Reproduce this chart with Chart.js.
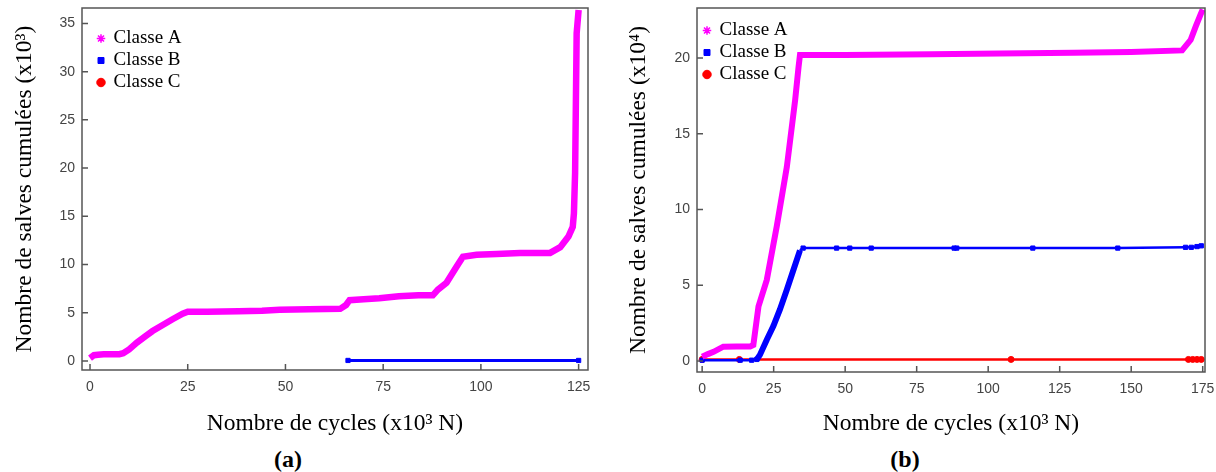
<!DOCTYPE html>
<html>
<head>
<meta charset="utf-8">
<script src="https://cdn.jsdelivr.net/npm/chart.js@4/dist/chart.umd.min.js"></script>
<style>
    body { margin: 0; background: #fff; }
    #wrap { position: relative; width: 1216px; height: 472px; }
    .panel { position: absolute; top: 0; width: 608px; height: 440px; }
    .tag { position: absolute; top: 446px; width: 60px; text-align: center;
           font: bold 24px "Liberation Serif", serif; color: #000; }
</style>
</head>
<body>
<div id="wrap">
    <div class="panel" style="left:0"><canvas id="chartA"></canvas></div>
    <div class="panel" style="left:608px"><canvas id="chartB"></canvas></div>
    <div class="tag" style="left:258px">(a)</div>
    <div class="tag" style="left:875px">(b)</div>
</div>
<script>
// ---- panel (a) : cycles x10^3 N / salves x10^3
const aClassAX = [0, 1, 2, 3.5, 5, 7.5, 8.5, 10, 12, 14.3, 16, 18.5, 21, 23.7, 25, 30, 38, 44, 48.5, 56, 64, 65.5, 66.4, 70, 74, 79, 84, 87.7, 89, 91.2, 93.8, 95.4, 98.9, 104, 110, 117.7, 120.3, 122.4, 123.5, 123.8, 124.1, 124.5, 125];
const aClassAY = [0.3, 0.6, 0.65, 0.7, 0.7, 0.7, 0.8, 1.2, 1.9, 2.6, 3.1, 3.7, 4.3, 4.9, 5.1, 5.1, 5.15, 5.2, 5.3, 5.35, 5.4, 5.8, 6.3, 6.4, 6.5, 6.7, 6.8, 6.8, 7.4, 8.1, 9.8, 10.8, 11.0, 11.1, 11.2, 11.2, 11.8, 12.9, 13.9, 15.3, 19.5, 34, 36.4];
const aClassBX = [66, 125];
const aClassBY = [0.05, 0.05];
const aClassCX = [];
const aClassCY = [];
const aXTicks = [0, 25, 50, 75, 100, 125];
const aYTicks = [0, 5, 10, 15, 20, 25, 30, 35];

// ---- panel (b) : cycles x10^3 N / salves x10^4
const bClassAX = [0, 2, 4, 7.4, 12, 16.8, 17.9, 19.7, 22.6, 26.1, 29.6, 32.5, 33.7, 34.2, 50, 80, 104, 130, 150, 167.8, 170.8, 172.6, 174.3, 175];
const bClassAY = [0.28, 0.45, 0.6, 0.94, 0.95, 0.95, 1.05, 3.6, 5.35, 8.9, 12.8, 17.2, 19.4, 20.2, 20.2, 20.25, 20.3, 20.35, 20.4, 20.5, 21.2, 22.1, 22.9, 23.2];
const bClassBX = [0, 13.3, 17.3, 19.1, 20.2, 22.6, 24.9, 27.2, 29.6, 31.9, 34.2, 35.3, 47, 51.6, 59.1, 88.1, 89, 115.6, 145.3, 169, 171, 173, 174.5];
const bClassBY = [0.05, 0.05, 0.05, 0.1, 0.4, 1.4, 2.3, 3.4, 4.7, 6.0, 7.3, 7.45, 7.45, 7.45, 7.45, 7.45, 7.45, 7.45, 7.45, 7.5, 7.5, 7.55, 7.6];
const bClassCX = [0, 13, 108, 170, 171.5, 173, 174.5];
const bClassCY = [0.1, 0.1, 0.1, 0.1, 0.1, 0.1, 0.1];
const bXTicks = [0, 25, 50, 75, 100, 125, 150, 175];
const bYTicks = [0, 5, 10, 15, 20];

const toPoints = (xs, ys) => xs.map((x, i) => ({ x: x, y: ys[i] }));

const MAGENTA = '#ff00ff';
const BLUE = '#0000ff';
const RED = '#ff0000';

// box around the plot + small inward ticks
const frame = {
    id: 'frame',
    afterDraw(chart) {
        const { ctx, chartArea: a, scales } = chart;
        ctx.save();
        ctx.strokeStyle = '#555';
        ctx.lineWidth = 1.5;
        ctx.strokeRect(a.left, a.top, a.right - a.left, a.bottom - a.top);
        ctx.beginPath();
        scales.x.ticks.forEach(t => {
            const px = scales.x.getPixelForValue(t.value);
            ctx.moveTo(px, a.bottom);
            ctx.lineTo(px, a.bottom - 6);
        });
        scales.y.ticks.forEach(t => {
            const py = scales.y.getPixelForValue(t.value);
            ctx.moveTo(a.left, py);
            ctx.lineTo(a.left + 6, py);
        });
        ctx.stroke();
        ctx.restore();
    }
};

// nudge the in-plot legend away from the corner
const legendShift = {
    id: 'legendShift',
    afterLayout(chart, args, opts) {
        const lg = chart.legend;
        if (!lg) return;
        lg.left += opts.dx; lg.right += opts.dx;
        lg.top += opts.dy; lg.bottom += opts.dy;
    }
};

function makeChart(id, cfg) {
    const tickFont = { family: '"Liberation Sans", Arial, sans-serif', size: 14 };
    const titleFont = { family: '"Liberation Serif", "Times New Roman", serif', size: 23.5 };
    return new Chart(document.getElementById(id), {
        type: 'line',
        data: { datasets: cfg.datasets },
        options: {
            responsive: true,
            maintainAspectRatio: false,
            animation: false,
            layout: { padding: { left: cfg.padLeft, right: cfg.padRight, top: 8, bottom: 0 } },
            plugins: {
                tooltip: { enabled: false },
                legendShift: { dx: cfg.legendDx, dy: cfg.legendDy },
                legend: {
                    position: 'chartArea',
                    align: 'start',
                    labels: {
                        usePointStyle: true,
                        boxWidth: 6,
                        boxHeight: 6,
                        padding: 3,
                        color: '#000',
                        font: { family: '"Liberation Serif", "Times New Roman", serif', size: 19 }
                    }
                }
            },
            scales: {
                x: {
                    type: 'linear',
                    min: cfg.xMin,
                    max: cfg.xMax,
                    grid: { display: false, drawTicks: false },
                    border: { display: false },
                    afterBuildTicks: s => { s.ticks = cfg.xTicks.map(v => ({ value: v })); },
                    afterFit: s => { s.height = 440 - cfg.bottom; s.paddingLeft = 0; s.paddingRight = 0; },
                    ticks: { color: '#444', font: tickFont, padding: 9, maxRotation: 0 },
                    title: { display: true, text: 'Nombre de cycles (x10³ N)', color: '#000', font: titleFont, padding: { top: 0, bottom: 2 } }
                },
                y: {
                    min: cfg.yMin,
                    max: cfg.yMax,
                    grid: { display: false, drawTicks: false },
                    border: { display: false },
                    afterBuildTicks: s => { s.ticks = cfg.yTicks.map(v => ({ value: v })); },
                    afterFit: s => { s.width = cfg.chartLeft - cfg.padLeft; s.paddingTop = 0; s.paddingBottom = 0; },
                    ticks: { color: '#444', font: tickFont, padding: 7 },
                    title: { display: true, text: cfg.yTitle, color: '#000', font: titleFont, padding: 0 }
                }
            }
        },
        plugins: [frame, legendShift]
    });
}

makeChart('chartA', {
    padLeft: 11, padRight: 20, chartLeft: 82, bottom: 370,
    xMin: -2.05, xMax: 127.4, yMin: -0.94, yMax: 36.6,
    xTicks: aXTicks, yTicks: aYTicks,
    legendDx: 13, legendDy: 26,
    yTitle: 'Nombre de salves cumulées (x10³)',
    datasets: [
        { label: 'Classe A', data: toPoints(aClassAX, aClassAY), borderColor: MAGENTA, backgroundColor: MAGENTA,
          borderWidth: 6.5, pointRadius: 0, pointStyle: 'star', pointBorderWidth: 1.5 },
        { label: 'Classe B', data: toPoints(aClassBX, aClassBY), borderColor: BLUE, backgroundColor: BLUE,
          borderWidth: 3, pointRadius: 3, pointStyle: 'rect', pointBorderWidth: 1 },
        { label: 'Classe C', data: toPoints(aClassCX, aClassCY), borderColor: RED, backgroundColor: RED,
          borderWidth: 2.5, pointRadius: 3, pointStyle: 'circle', pointBorderWidth: 1 }
    ]
});

makeChart('chartB', {
    padLeft: 17, padRight: 11, chartLeft: 89, bottom: 372,
    xMin: -1.8, xMax: 175.8, yMin: -0.73, yMax: 23.3,
    xTicks: bXTicks, yTicks: bYTicks,
    legendDx: 4, legendDy: 18,
    yTitle: 'Nombre de salves cumulées (x10⁴)',
    datasets: [
        { label: 'Classe A', data: toPoints(bClassAX, bClassAY), borderColor: MAGENTA, backgroundColor: MAGENTA,
          borderWidth: 6, pointRadius: 0, pointStyle: 'star', pointBorderWidth: 1.5 },
        { label: 'Classe B', data: toPoints(bClassBX, bClassBY), borderColor: BLUE, backgroundColor: BLUE,
          borderWidth: 2.5, pointStyle: 'rect', pointBorderWidth: 1,
          pointRadius: c => (c.raw && c.raw.x > 19.5 && c.raw.x < 35) ? 0 : 3,
          segment: { borderWidth: c => (c.p1.parsed.y - c.p0.parsed.y > 0.2 ? 6 : 2.5) } },
        { label: 'Classe C', data: toPoints(bClassCX, bClassCY), borderColor: RED, backgroundColor: RED,
          borderWidth: 2.5, pointRadius: 3, pointStyle: 'circle', pointBorderWidth: 1 }
    ]
});
</script>
</body>
</html>
